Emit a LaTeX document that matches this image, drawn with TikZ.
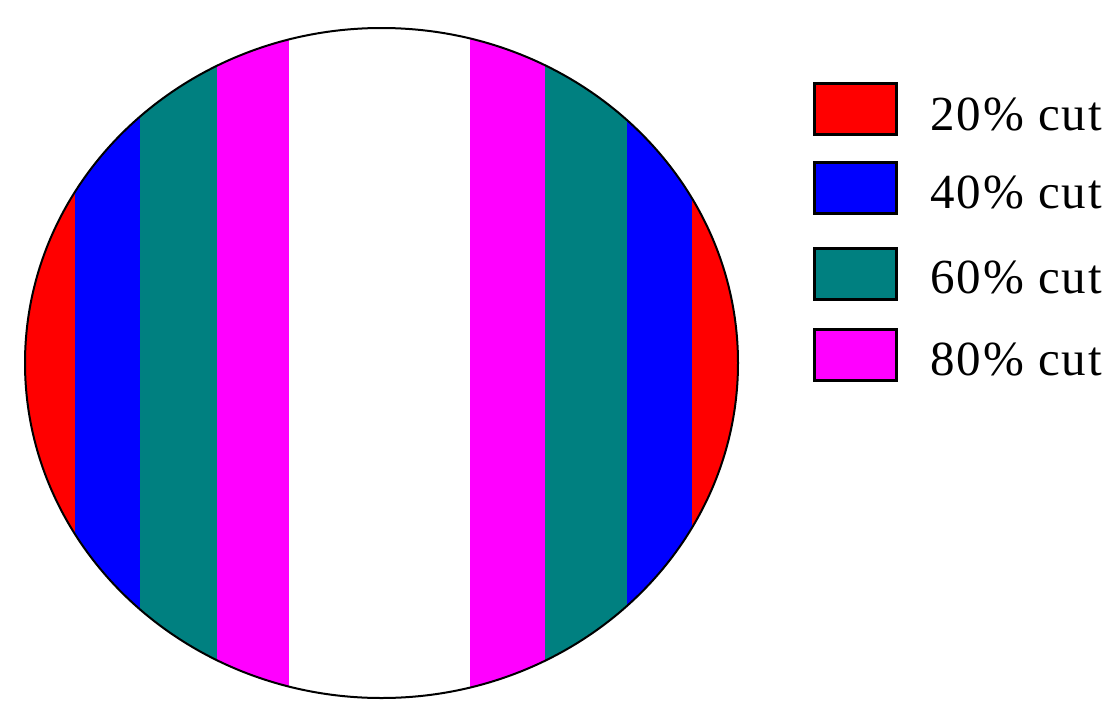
\documentclass[tikz,border=0pt]{standalone}
\usepackage{fontspec}
\usetikzlibrary{shapes.geometric}
\setmainfont{Liberation Serif}
\definecolor{cutred}{RGB}{255,0,0}
\definecolor{cutblue}{RGB}{0,0,255}
\definecolor{cutteal}{RGB}{0,128,128}
\definecolor{cutmag}{RGB}{255,0,255}
\begin{document}
\begin{tikzpicture}[x=1pt,y=-1pt,
  legbox/.style={draw=black,line width=2.5pt,minimum width=82pt,minimum height=51pt,inner sep=0pt,anchor=north west},
  legtext/.style={anchor=base west,inner sep=0pt,font=\fontsize{49}{52}\selectfont\addfontfeatures{LetterSpace=4}}]
\useasboundingbox (0,0) rectangle (1114,702);
\begin{scope}
  \clip (381.5,363) ellipse [x radius=356.5, y radius=335];
  \fill[cutred] (0,0) rectangle (75,702);
  \fill[cutblue] (75,0) rectangle (140,702);
  \fill[cutteal] (140,0) rectangle (217,702);
  \fill[cutmag] (217,0) rectangle (289,702);
  \fill[white] (289,0) rectangle (470,702);
  \fill[cutmag] (470,0) rectangle (545,702);
  \fill[cutteal] (545,0) rectangle (627,702);
  \fill[cutblue] (627,0) rectangle (692,702);
  \fill[cutred] (692,0) rectangle (760,702);
\end{scope}
\node[draw=black,line width=2pt,ellipse,minimum width=713pt,minimum height=670pt,inner sep=0pt] (disk) at (381.5,363) {};
\node[legbox,fill=cutred] (b1) at (813,82) {};
\node[legbox,fill=cutblue] (b2) at (813,161) {};
\node[legbox,fill=cutteal] (b3) at (813,247) {};
\node[legbox,fill=cutmag] (b4) at (813,328) {};
\node[legtext] (t1) at (930,130) {20\% cut};
\node[legtext] (t2) at (930,208) {40\% cut};
\node[legtext] (t3) at (930,293) {60\% cut};
\node[legtext] (t4) at (930,375) {80\% cut};
\end{tikzpicture}
\end{document}
